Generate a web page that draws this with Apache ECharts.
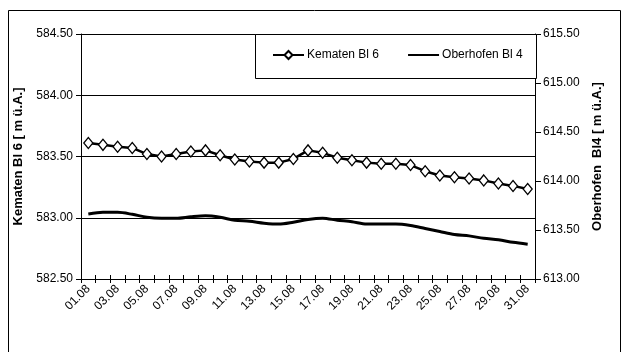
<!DOCTYPE html>
<html>
<head>
<meta charset="utf-8">
<script src="https://cdn.jsdelivr.net/npm/echarts@6/dist/echarts.min.js"></script>
<style>
html,body{margin:0;padding:0;background:#fff;}
#c{width:627px;height:352px;}
</style>
</head>
<body>
<div id="c"></div>
<script>
const categories = ["01.08","02.08","03.08","04.08","05.08","06.08","07.08","08.08","09.08","10.08","11.08","12.08","13.08","14.08","15.08","16.08","17.08","18.08","19.08","20.08","21.08","22.08","23.08","24.08","25.08","26.08","27.08","28.08","29.08","30.08","31.08"];
const kematen = [583.61,583.595,583.58,583.57,583.52,583.50,583.52,583.54,583.55,583.51,583.475,583.46,583.45,583.45,583.48,583.55,583.53,583.49,583.47,583.45,583.44,583.44,583.43,583.38,583.345,583.33,583.32,583.305,583.28,583.26,583.235];
const oberhofen = [613.663,613.68,613.68,613.66,613.63,613.62,613.62,613.635,613.645,613.63,613.60,613.59,613.57,613.56,613.58,613.608,613.62,613.60,613.585,613.56,613.56,613.56,613.545,613.515,613.485,613.455,613.44,613.415,613.40,613.375,613.355];
const leftTitle = "Kematen Bl 6 [ m ü.A.]";
const rightTitle = "Oberhofen  Bl4 [ m ü.A.]";
const seriesNames = ["Kematen Bl 6","Oberhofen Bl 4"];

const FONT = "Liberation Sans, Arial, sans-serif";
const chart = echarts.init(document.getElementById('c'), null, {renderer:'canvas'});
chart.setOption({
  animation:false,
  backgroundColor:'#fff',
  textStyle:{fontFamily:FONT},
  graphic:[
    {type:'rect', shape:{x:8.5,y:10.5,width:612,height:360}, style:{fill:'none',stroke:'#000',lineWidth:1}, z:-10},
    {type:'rect', shape:{x:255.5,y:34.5,width:281,height:44}, style:{fill:'#fff',stroke:'#000',lineWidth:1}, z:10}
  ],
  legend:{
    left:272, top:49, padding:0, itemGap:28, itemWidth:31, itemHeight:10, z:20,
    textStyle:{fontFamily:FONT,fontSize:12,color:'#000',padding:[0,0,0,-2]},
    data:[{name:seriesNames[0]},{name:seriesNames[1], itemStyle:{opacity:0}}]
  },
  grid:{left:81, right:92, top:34, bottom:73, containLabel:false},
  xAxis:[{
    type:'category', data:categories, boundaryGap:true,
    axisLine:{lineStyle:{color:'#000',width:1}},
    axisTick:{show:true, length:4, lineStyle:{color:'#000'}, interval:0},
    axisLabel:{interval:1, rotate:45, fontSize:12, color:'#000', fontFamily:FONT, margin:8},
    splitLine:{show:false}
  },{
    type:'category', data:categories, boundaryGap:true, position:'bottom',
    axisLine:{show:false},
    axisTick:{show:true, inside:true, length:4, lineStyle:{color:'#000'}, interval:0},
    axisLabel:{show:false}
  }],
  yAxis:[{
    type:'value', min:582.5, max:584.5, interval:0.5, position:'left',
    name:leftTitle, nameLocation:'middle', nameGap:47, nameRotate:90,
    nameTextStyle:{fontFamily:FONT,fontSize:13,fontWeight:'bold',color:'#000'},
    axisLine:{show:true, lineStyle:{color:'#000'}},
    axisTick:{show:true, length:5, lineStyle:{color:'#000'}},
    axisLabel:{formatter:v=>v.toFixed(2), fontSize:12, color:'#000', fontFamily:FONT, margin:8},
    splitLine:{show:true, lineStyle:{color:'#000', width:1}}
  },{
    type:'value', min:613, max:615.5, interval:0.5, position:'right',
    name:rightTitle, nameLocation:'middle', nameGap:53, nameRotate:90,
    nameTextStyle:{fontFamily:FONT,fontSize:13,fontWeight:'bold',color:'#000'},
    axisLine:{show:true, lineStyle:{color:'#000'}},
    axisTick:{show:true, length:6, lineStyle:{color:'#000'}},
    axisLabel:{formatter:v=>v.toFixed(2), fontSize:12, color:'#000', fontFamily:FONT, margin:8},
    splitLine:{show:false}
  }],
  series:[{
    name:seriesNames[0], type:'line', yAxisIndex:0, data:kematen,
    symbol:'diamond', symbolSize:[9,11], showSymbol:true, showAllSymbol:true,
    lineStyle:{color:'#000', width:2.5},
    itemStyle:{color:'#fff', borderColor:'#000', borderWidth:1.3},
    z:5
  },{
    name:seriesNames[1], type:'line', yAxisIndex:1, data:oberhofen,
    symbol:'none', smooth:0.3,
    lineStyle:{color:'#000', width:3},
    itemStyle:{color:'#000'},
    z:4
  }]
});
</script>
</body>
</html>
